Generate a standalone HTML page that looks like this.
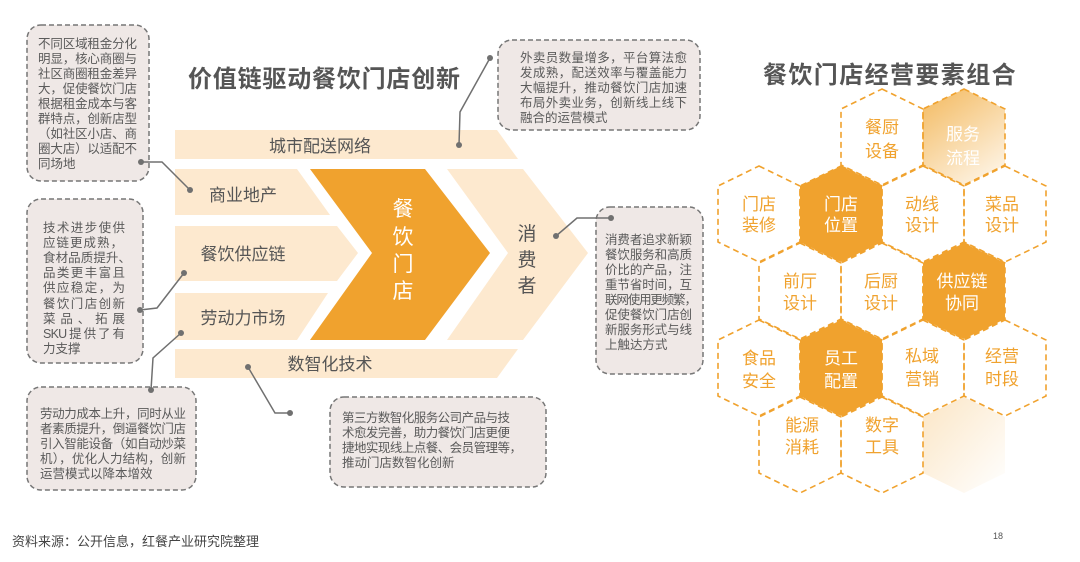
<!DOCTYPE html>
<html><head><meta charset="utf-8"><style>
html,body{margin:0;padding:0;background:#fff;}
svg{display:block;font-family:"Liberation Sans","Noto Sans CJK SC",sans-serif;}
.bt{font-size:12.5px;fill:#5a5a5a;}
.hx{fill:none;stroke:#f0a22e;stroke-width:1.6;stroke-dasharray:6 4;}
.ho{font-size:17px;fill:#f0a22e;text-anchor:middle;}
.hw{font-size:17px;fill:#fff;text-anchor:middle;}
.bl{font-size:17px;fill:#555;text-anchor:middle;}
</style></head><body>
<svg width="1080" height="562" viewBox="0 0 1080 562" xmlns="http://www.w3.org/2000/svg">
<defs>
<linearGradient id="g1" x1="0" y1="0" x2="0.6" y2="1"><stop offset="0" stop-color="#f3b95e"/><stop offset="1" stop-color="#fdf0dc"/></linearGradient>
<linearGradient id="g2" x1="0" y1="0" x2="1" y2="1"><stop offset="0" stop-color="#fbe6c6"/><stop offset="1" stop-color="#fff"/></linearGradient>
<polygon id="h" points="0,-48 41,-28 41,28 0,48 -41,28 -41,-28"/>
</defs>
<text x="188" y="87" font-size="24" font-weight="bold" fill="#555" letter-spacing="0.8">价值链驱动餐饮门店创新</text>
<text x="763" y="83" font-size="24" font-weight="bold" fill="#555" letter-spacing="1.4">餐饮门店经营要素组合</text>

<g fill="#fde9cf">
<polygon points="175,130 497,130 518,159 175,159"/>
<polygon points="175,169 297,169 330,215 175,215"/>
<polygon points="175,226 337,226 358,253 337,281 175,281"/>
<polygon points="175,293 328,293 297,340 175,340"/>
<polygon points="175,349 518,349 497,378 175,378"/>
<polygon points="447,169 523,169 588,253 523,340 447,340 508,253"/>
</g>
<polygon points="310,169 425,169 490,253 425,340 310,340 372,253" fill="#f0a22e"/>
<text class="bl" x="320" y="152">城市配送网络</text>
<text class="bl" x="243" y="201">商业地产</text>
<text class="bl" x="243" y="260">餐饮供应链</text>
<text class="bl" x="243" y="324">劳动力市场</text>
<text class="bl" x="330" y="370">数智化技术</text>
<g font-size="21" fill="#fff" text-anchor="middle">
<text x="403" y="216">餐</text><text x="403" y="244">饮</text><text x="403" y="271">门</text><text x="403" y="298">店</text>
</g>
<g font-size="19" fill="#555" text-anchor="middle">
<text x="527" y="240">消</text><text x="527" y="266">费</text><text x="527" y="292">者</text>
</g>

<g fill="#efe8e6" stroke="#777" stroke-width="1.5" stroke-dasharray="5 3">
<rect x="27" y="25" width="122" height="156" rx="14"/>
<rect x="498" y="40" width="202" height="90" rx="14"/>
<rect x="27" y="199" width="116" height="164" rx="14"/>
<rect x="27" y="387" width="169" height="103" rx="14"/>
<rect x="330" y="397" width="216" height="90" rx="14"/>
<rect x="596" y="207" width="107" height="167" rx="14"/>
</g>
<g class="bt">
<text x="38" y="48" textLength="99">不同区域租金分化</text>
<text x="38" y="63" textLength="99">明显，核心商圈与</text>
<text x="38" y="78" textLength="99">社区商圈租金差异</text>
<text x="38" y="93" textLength="99">大，促使餐饮门店</text>
<text x="38" y="108" textLength="99">根据租金成本与客</text>
<text x="38" y="123" textLength="99">群特点，创新店型</text>
<text x="38" y="138" textLength="99">（如社区小店、商</text>
<text x="38" y="153" textLength="99">圈大店）以适配不</text>
<text x="38" y="168">同场地</text>

<text x="520" y="62" textLength="167">外卖员数量增多，平台算法愈</text>
<text x="520" y="77" textLength="167">发成熟，配送效率与覆盖能力</text>
<text x="520" y="92" textLength="167">大幅提升，推动餐饮门店加速</text>
<text x="520" y="107" textLength="167">布局外卖业务，创新线上线下</text>
<text x="520" y="122">融合的运营模式</text>

<text x="43" y="232" textLength="82">技术进步使供</text>
<text x="43" y="247" textLength="80">应链更成熟，</text>
<text x="43" y="262" textLength="88">食材品质提升、</text>
<text x="43" y="277" textLength="82">品类更丰富且</text>
<text x="43" y="292" textLength="82">供应稳定，为</text>
<text x="43" y="308" textLength="82">餐饮门店创新</text>
<text x="43" y="323" textLength="82">菜 品 、 拓 展</text>
<text x="43" y="338" textLength="82">SKU 提 供 了 有</text>
<text x="43" y="353">力支撑</text>

<text x="40" y="418" textLength="146">劳动力成本上升，同时从业</text>
<text x="40" y="433" textLength="146">者素质提升，倒逼餐饮门店</text>
<text x="40" y="448" textLength="146">引入智能设备（如自动炒菜</text>
<text x="40" y="463" textLength="146">机），优化人力结构，创新</text>
<text x="40" y="478">运营模式以降本增效</text>

<text x="342" y="422" textLength="168">第三方数智化服务公司产品与技</text>
<text x="342" y="437" textLength="168">术愈发完善，助力餐饮门店更便</text>
<text x="342" y="452" textLength="180">捷地实现线上点餐、会员管理等，</text>
<text x="342" y="467">推动门店数智化创新</text>

<text x="605" y="244" textLength="87">消费者追求新颖</text>
<text x="605" y="259" textLength="87">餐饮服务和高质</text>
<text x="605" y="274" textLength="87">价比的产品，注</text>
<text x="605" y="289" textLength="87">重节省时间，互</text>
<text x="605" y="304" textLength="92">联网使用更频繁，</text>
<text x="605" y="319" textLength="87">促使餐饮门店创</text>
<text x="605" y="334" textLength="87">新服务形式与线</text>
<text x="605" y="349">上触达方式</text>
</g>

<g stroke="#707070" stroke-width="1.5" fill="none">
<polyline points="141,162 162,162 190,190"/>
<polyline points="490,58 460,112 459,145"/>
<polyline points="140,310 157,308 184,273"/>
<polyline points="151,390 153,358 181,333"/>
<polyline points="248,367 275,413 290,413"/>
<polyline points="556,236 577,218 611,218"/>
</g>
<g fill="#707070">
<circle cx="141" cy="162" r="3"/><circle cx="190" cy="190" r="3"/>
<circle cx="490" cy="58" r="3"/><circle cx="459" cy="145" r="3"/>
<circle cx="140" cy="310" r="3"/><circle cx="184" cy="273" r="3"/>
<circle cx="151" cy="390" r="3"/><circle cx="181" cy="333" r="3"/>
<circle cx="248" cy="367" r="3"/><circle cx="290" cy="413" r="3"/>
<circle cx="556" cy="236" r="3"/><circle cx="611" cy="218" r="3"/>
</g>

<use href="#h" x="964" y="137" fill="url(#g1)"/>
<use href="#h" x="964" y="445" fill="url(#g2)"/>
<use href="#h" x="841" y="214" fill="#f0a22e"/>
<use href="#h" x="964" y="291" fill="#f0a22e"/>
<use href="#h" x="841" y="368" fill="#f0a22e"/>
<g class="hx">
<use href="#h" x="882" y="137"/><use href="#h" x="964" y="137"/>
<use href="#h" x="759" y="214"/><use href="#h" x="841" y="214"/><use href="#h" x="923" y="214"/><use href="#h" x="1005" y="214"/>
<use href="#h" x="800" y="291"/><use href="#h" x="882" y="291"/><use href="#h" x="964" y="291"/>
<use href="#h" x="759" y="368"/><use href="#h" x="841" y="368"/><use href="#h" x="923" y="368"/><use href="#h" x="1005" y="368"/>
<use href="#h" x="800" y="445"/><use href="#h" x="882" y="445"/>
</g>
<g>
<text class="ho" x="882" y="133">餐厨</text><text class="ho" x="882" y="157">设备</text>
<text class="hw" x="963" y="140">服务</text><text class="hw" x="963" y="164">流程</text>
<text class="ho" x="759" y="210">门店</text><text class="ho" x="759" y="231">装修</text>
<text class="hw" x="841" y="210">门店</text><text class="hw" x="841" y="231">位置</text>
<text class="ho" x="922" y="210">动线</text><text class="ho" x="922" y="231">设计</text>
<text class="ho" x="1002" y="210">菜品</text><text class="ho" x="1002" y="231">设计</text>
<text class="ho" x="800" y="287">前厅</text><text class="ho" x="800" y="309">设计</text>
<text class="ho" x="881" y="287">后厨</text><text class="ho" x="881" y="309">设计</text>
<text class="hw" x="962" y="287">供应链</text><text class="hw" x="962" y="309">协同</text>
<text class="ho" x="759" y="364">食品</text><text class="ho" x="759" y="387">安全</text>
<text class="hw" x="841" y="364">员工</text><text class="hw" x="841" y="387">配置</text>
<text class="ho" x="922" y="362">私域</text><text class="ho" x="922" y="385">营销</text>
<text class="ho" x="1002" y="362">经营</text><text class="ho" x="1002" y="385">时段</text>
<text class="ho" x="802" y="431">能源</text><text class="ho" x="802" y="453">消耗</text>
<text class="ho" x="882" y="431">数字</text><text class="ho" x="882" y="453">工具</text>
</g>

<text x="12" y="546" font-size="13" fill="#444">资料来源：公开信息，红餐产业研究院整理</text>
<text x="993" y="539" font-size="9" fill="#555">18</text>
</svg>
</body></html>
